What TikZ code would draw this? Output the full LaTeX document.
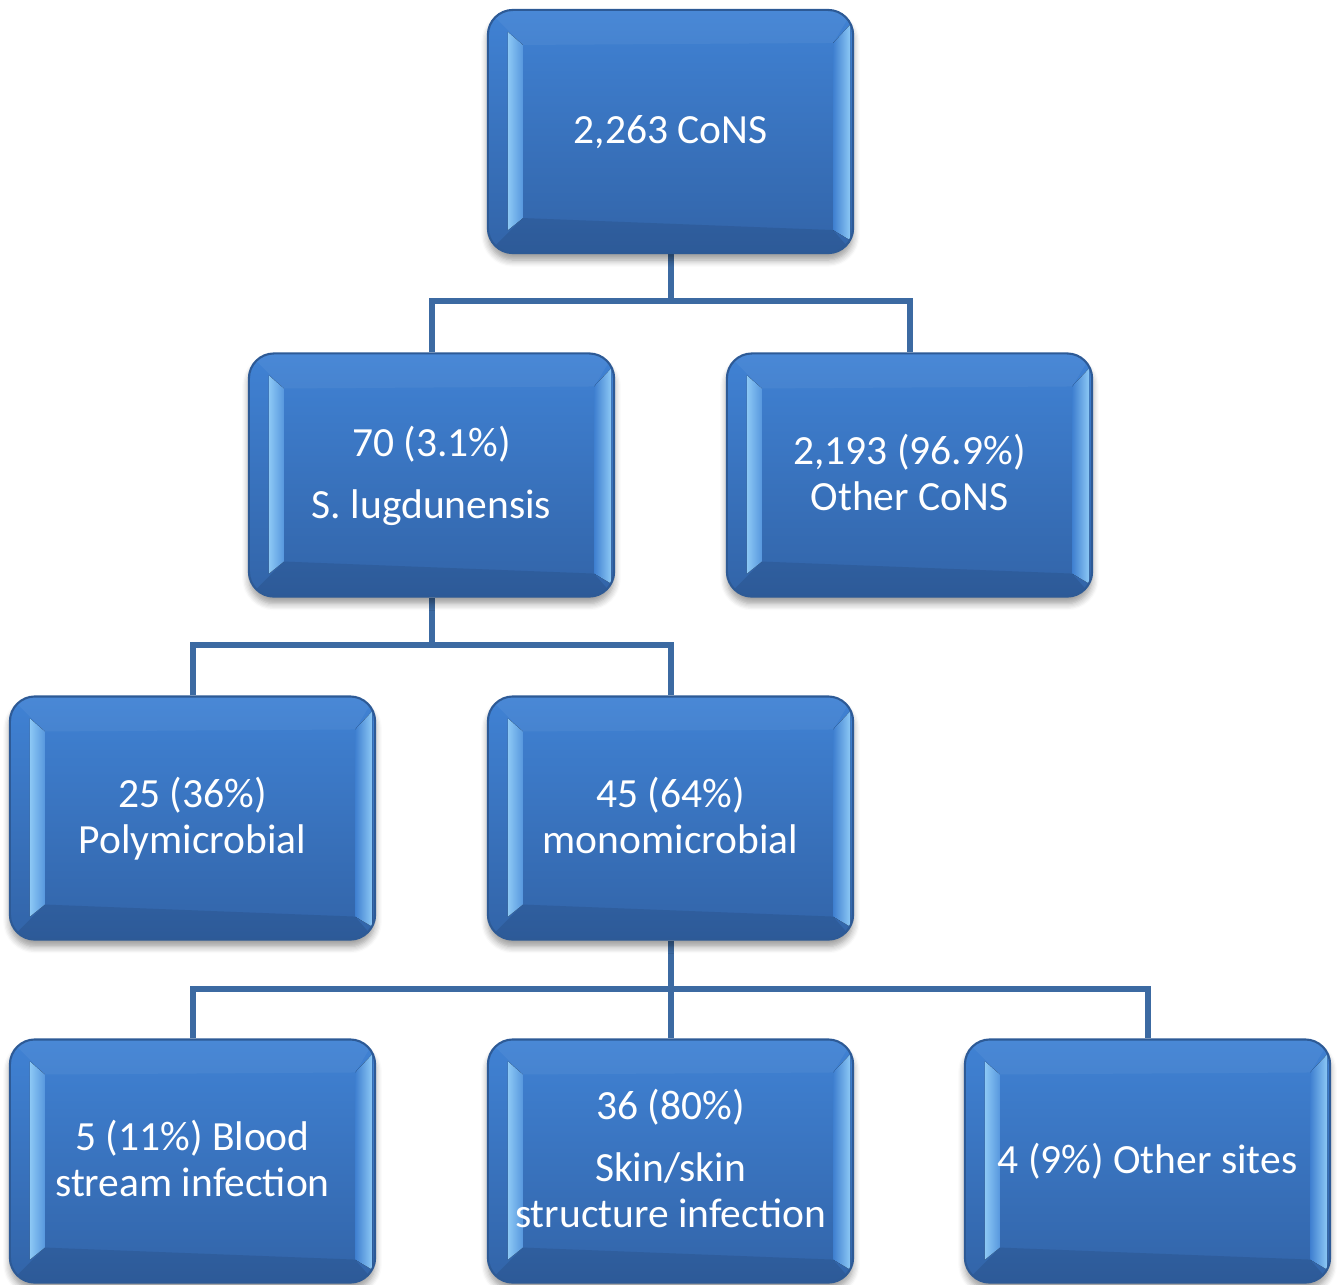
\documentclass[tikz,border=0pt]{standalone}
\usepackage{fontspec}
\setmainfont{Carlito}
\usetikzlibrary{shadows.blur,backgrounds}
\definecolor{btop}{RGB}{64,130,212}
\definecolor{bbot}{RGB}{50,100,168}
\definecolor{bedge}{RGB}{45,90,150}
\definecolor{linkc}{RGB}{60,106,162}
\definecolor{bevL}{RGB}{140,200,245}
\def\ppb{path picture bounding box}
\newcommand\firststrut{\rule{0pt}{10.9pt}}
\tikzset{
 cbox/.style={rectangle, rounded corners=0.25cm, minimum width=3.65cm, minimum height=2.43cm,
   inner sep=0pt, top color=btop, bottom color=bbot, draw=bedge, line width=0.6pt,
   text=white, align=center, font=\fontsize{11.8}{13.1}\selectfont,
   blur shadow={shadow xshift=0pt, shadow yshift=-0.07cm, shadow blur steps=6, shadow opacity=40},
   path picture={
     \begin{scope}[sharp corners]
     \fill[white,opacity=0.05] (\ppb.north west) -- (\ppb.north east) -- ([shift={(-0.2cm,-0.33cm)}]\ppb.north east) -- ([shift={(0.35cm,-0.35cm)}]\ppb.north west) -- cycle;
     \fill[black,opacity=0.09] (\ppb.south west) -- (\ppb.south east) -- ([shift={(-0.2cm,0.23cm)}]\ppb.south east) -- ([shift={(0.35cm,0.35cm)}]\ppb.south west) -- cycle;
     \fill[left color=bevL, right color=btop!70!bevL]
       ([shift={(0.2cm,-0.22cm)}]\ppb.north west) -- ([shift={(0.35cm,-0.35cm)}]\ppb.north west)
       -- ([shift={(0.35cm,0.35cm)}]\ppb.south west) -- ([shift={(0.2cm,0.23cm)}]\ppb.south west) -- cycle;
     \fill[left color=btop!90!bbot, right color=bevL]
       ([shift={(-0.2cm,-0.33cm)}]\ppb.north east) -- ([shift={(-0.03cm,-0.15cm)}]\ppb.north east)
       -- ([shift={(-0.03cm,0.13cm)}]\ppb.south east) -- ([shift={(-0.2cm,0.23cm)}]\ppb.south east) -- cycle;
     \end{scope}
   }},
 link/.style={draw=linkc, line width=0.06cm}
}
\begin{document}
\begin{tikzpicture}[x=0.01cm,y=-0.01cm]
\useasboundingbox (0,0) rectangle (1340,1284);
\coordinate (j1) at (670.5,301);
\coordinate (j2) at (431.5,645);
\coordinate (j3) at (670.5,989);
\node[cbox] (top)   at (670.5,131.5) {\firststrut\strut 2,263 CoNS};
\node[cbox] (slug)  at (431.5,475) {\firststrut 70 (3.1\%)\\[4.5pt]\strut S. lugdunensis};
\node[cbox] (oth)   at (909.5,475) {\firststrut 2,193 (96.9\%)\\\strut Other CoNS};
\node[cbox] (poly)  at (192.5,818) {\firststrut 25 (36\%)\\\strut Polymicrobial};
\node[cbox] (mono)  at (670.5,818) {\firststrut 45 (64\%)\\\strut monomicrobial};
\node[cbox] (bsi)   at (192.5,1161) {\firststrut 5 (11\%) Blood\\\strut stream infection};
\node[cbox] (skin)  at (670.5,1161) {\firststrut 36 (80\%)\\[4.5pt]\strut Skin/skin\\\strut structure infection};
\node[cbox] (osite) at (1147.5,1161) {\firststrut\strut 4 (9\%) Other sites};
\begin{scope}[on background layer]
\draw[link] (top.south) -- (j1);
\draw[link] (slug.north) |- (j1) -| (oth.north);
\draw[link] (slug.south) -- (j2);
\draw[link] (poly.north) |- (j2) -| (mono.north);
\draw[link] (mono.south) -- (j3);
\draw[link] (bsi.north) |- (j3) -| (osite.north);
\draw[link] (j3) -- (skin.north);
\end{scope}
\end{tikzpicture}
\end{document}
